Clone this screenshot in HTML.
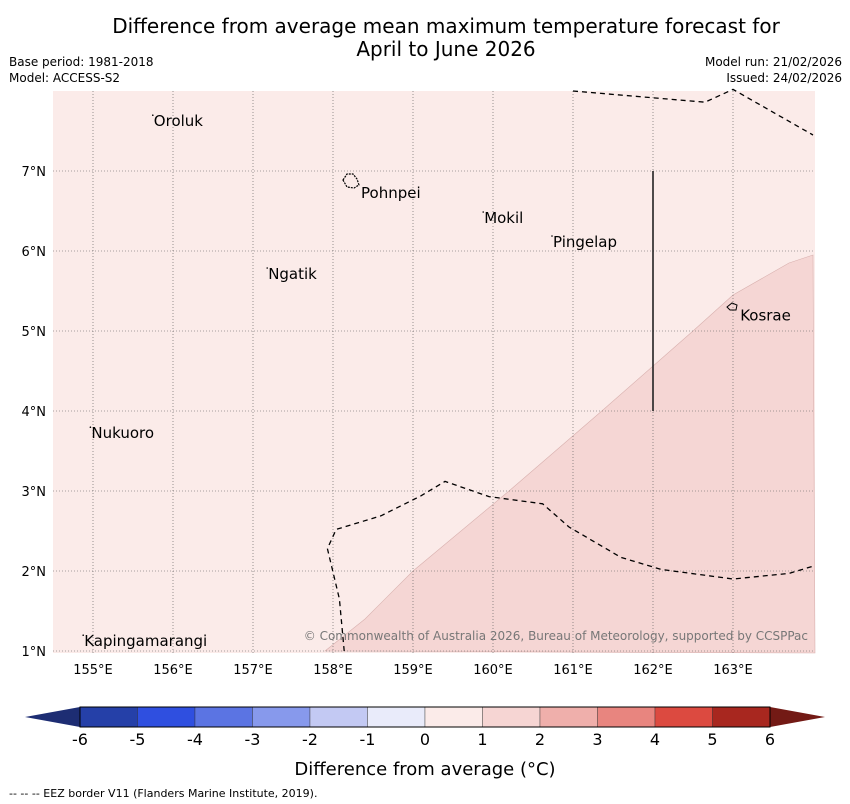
<!DOCTYPE html>
<html><head><meta charset="utf-8">
<style>
body{margin:0;background:#fff;font-family:"Liberation Sans","DejaVu Sans",sans-serif;}
svg{display:block}
</style></head>
<body>
<svg id="chart" width="850" height="804" xmlns="http://www.w3.org/2000/svg" font-family="DejaVu Sans, Liberation Sans, sans-serif">
<text x="446" y="33" font-size="20" text-anchor="middle">Difference from average mean maximum temperature forecast for</text>
<text x="446" y="56" font-size="20" text-anchor="middle">April to June 2026</text>
<text x="9" y="66" font-size="12">Base period: 1981-2018</text>
<text x="9" y="82" font-size="12">Model: ACCESS-S2</text>
<text x="842" y="66" font-size="12" text-anchor="end">Model run: 21/02/2026</text>
<text x="842" y="82" font-size="12" text-anchor="end">Issued: 24/02/2026</text>
<g id="map"></g>
<g id="cbar"></g>
<text x="425" y="775" font-size="18" text-anchor="middle">Difference from average (°C)</text>
<text x="9" y="797" font-size="11">--  --  -- EEZ border V11 (Flanders Marine Institute, 2019).</text>
</svg>
<script>
const lonTicks=[155,156,157,158,159,160,161,162,163];
const latTicks=[1,2,3,4,5,6,7];
const places=["Oroluk","Pohnpei","Mokil","Pingelap","Ngatik","Kosrae","Nukuoro","Kapingamarangi"];
const placeLon=[155.76,158.35,159.89,160.75,157.19,163.09,154.98,154.89];
const placeLat=[7.56,6.66,6.35,6.05,5.65,5.13,3.66,1.06];
const anomLon=[157.9,158.4,159.0,160.2,161.36,162.5,163.0,163.7,164.0];
const anomLat=[1.0,1.4,2.0,3.0,4.0,5.0,5.45,5.85,5.95];
const eezTopLon=[161.0,162.65,163.0,164.0];
const eezTopLat=[8.0,7.86,8.02,7.45];
const eezLon=[158.14,158.08,157.93,158.04,158.6,159.1,159.4,159.95,160.62,160.95,161.6,162.1,163.0,163.7,164.0];
const eezLat=[1.0,1.65,2.28,2.52,2.69,2.94,3.12,2.93,2.84,2.55,2.17,2.02,1.9,1.97,2.06];
const cbLevels=[-6,-5,-4,-3,-2,-1,0,1,2,3,4,5,6];
const cbColors=["#2540a8","#2f4fe0","#5b74e3","#8799ec","#c3c9f3","#e9ebfa","#fbebe9","#f6d5d3","#efafab","#e8857f","#dc4a40","#a8271f"];
const NS="http://www.w3.org/2000/svg";
const X0=53,X1=815,Y0=91,Y1=653;
const xs=lon=>X0+(lon-154.5)*80;
const ys=lat=>Y0+(8-lat)*80;
function mk(tag,attrs,parent){const e=document.createElementNS(NS,tag);for(const k in attrs)e.setAttribute(k,attrs[k]);parent.appendChild(e);return e;}
const map=document.getElementById('map');
const bg=mk('rect',{x:X0,y:Y0,width:X1-X0,height:Y1-Y0,fill:'#fbebe9'},map);


let pts=anomLon.map((l,i)=>xs(l)+','+ys(anomLat[i])).join(' ')+' '+X1+','+Y1;
const an=mk('polygon',{points:pts,fill:'#f5d6d4',stroke:'#d8b0ae','stroke-width':0.6},map);


lonTicks.forEach(l=>{const g=mk('line',{x1:xs(l),x2:xs(l),y1:Y0,y2:Y1,stroke:'#555','stroke-width':0.6,'stroke-dasharray':'1,2'},map);


const t=mk('text',{x:xs(l),y:674,'font-size':13,'text-anchor':'middle'},map);t.textContent=l+'°E';

});
latTicks.forEach(l=>{const g=mk('line',{x1:X0,x2:X1,y1:ys(l),y2:ys(l),stroke:'#555','stroke-width':0.6,'stroke-dasharray':'1,2'},map);


const t=mk('text',{x:46,y:ys(l)+5,'font-size':13,'text-anchor':'end'},map);t.textContent=l+'°N';

});
[[eezTopLon,eezTopLat],[eezLon,eezLat]].forEach(([lo,la])=>{const p=mk('polyline',{points:lo.map((l,i)=>xs(l)+','+ys(la[i])).join(' '),fill:'none',stroke:'#000','stroke-width':1.3,'stroke-dasharray':'5,4'},map);

});
const vl=mk('line',{x1:xs(162),x2:xs(162),y1:ys(7),y2:ys(4),stroke:'#222','stroke-width':1.6},map);


const pi=mk('path',{d:'M343,180 l4,-6 l6,0 l4,5 l2,6 l-5,3 l-7,-1 z',fill:'none',stroke:'#000','stroke-width':1.2,'stroke-dasharray':'2,1'},map);


const ki=mk('path',{d:'M727,307 l5,-4 l5,2 l-1,5 l-6,0 z',fill:'none',stroke:'#000','stroke-width':1},map);


places.forEach((n,i)=>{const x=xs(placeLon[i]),y=ys(placeLat[i]);
if(n!=="Pohnpei"&&n!=="Kosrae"){const d=mk('circle',{cx:x-1,cy:y-11,r:0.8,fill:'#000'},map);

}
const t=mk('text',{x:x,y:y,'font-size':15},map);t.textContent=n;

});
const cp=mk('text',{x:808,y:640,'font-size':12,'text-anchor':'end',fill:'#777'},map);cp.textContent='© Commonwealth of Australia 2026, Bureau of Meteorology, supported by CCSPPac';


const cb=document.getElementById('cbar');
const cx=v=>425+v*57.5;const CY0=707,CY1=727;
cbColors.forEach((c,i)=>{const r=mk('rect',{x:cx(cbLevels[i]),y:CY0,width:cx(cbLevels[i+1])-cx(cbLevels[i]),height:CY1-CY0,fill:c,stroke:'#333','stroke-width':0.4},cb);

});
const tl=mk('polygon',{points:`${cx(-6)},${CY0} 25,717 ${cx(-6)},${CY1}`,fill:'#1d2d73'},cb);


const tr=mk('polygon',{points:`${cx(6)},${CY0} 825,717 ${cx(6)},${CY1}`,fill:'#731a15'},cb);


const ob=mk('rect',{x:cx(-6),y:CY0,width:cx(6)-cx(-6),height:CY1-CY0,fill:'none',stroke:'#000','stroke-width':1},cb);


cbLevels.forEach(v=>{const t=mk('text',{x:cx(v),y:745,'font-size':16,'text-anchor':'middle'},cb);t.textContent=v;

});
</script>
</body></html>
